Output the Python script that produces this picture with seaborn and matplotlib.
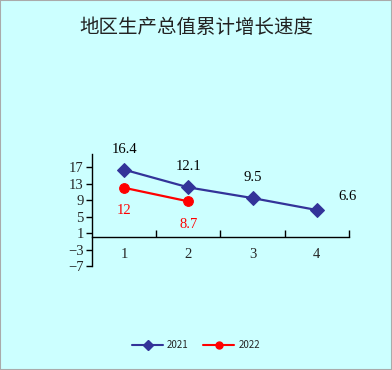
import matplotlib
matplotlib.use('Agg')
import matplotlib.pyplot as plt
import numpy as np
import pandas as pd
import seaborn as sns

# 数据
quarters = [1, 2, 3, 4]
growth_2021 = [16.4, 12.1, 9.5, 6.6]
growth_2022 = [12, 8.7]
series_names = ['2021', '2022']
y_ticks = [-7, -3, 1, 5, 9, 13, 17]

df = pd.concat([
    pd.DataFrame({'季度': quarters, '增速': growth_2021, '年份': '2021'}),
    pd.DataFrame({'季度': quarters[:len(growth_2022)], '增速': growth_2022, '年份': '2022'}),
])

sns.set_theme(style='white')
plt.rcParams['font.family'] = ['Noto Sans CJK SC', 'DejaVu Sans']
plt.rcParams['axes.unicode_minus'] = False

bg = '#ccffff'
colors = {'2021': '#333399', '2022': '#ff0000'}

fig = plt.figure(figsize=(3.92, 3.70), dpi=100, facecolor=bg)
ax = fig.add_axes([0.2347, 0.281, 0.6556, 0.3027])
ax.set_facecolor(bg)

sns.lineplot(data=df, x='季度', y='增速', hue='年份', style='年份',
             markers={'2021': 'D', '2022': 'o'}, dashes=False,
             palette=colors, markersize=7, linewidth=1.6,
             markeredgecolor=None, ax=ax, legend=False)
for line, c in zip(ax.lines, colors.values()):
    line.set_markeredgecolor(c)

num_font = ['Liberation Serif', 'DejaVu Serif']
fs = 10.5

# 数据标签
for x, v in zip(quarters, growth_2021):
    if x == 4:
        ax.annotate(f'{v}', (x, v), xytext=(22, 5), textcoords='offset points',
                    ha='center', va='bottom', fontsize=fs, family=num_font, color='black')
    else:
        ax.annotate(f'{v}', (x, v), xytext=(0, 10), textcoords='offset points',
                    ha='center', va='bottom', fontsize=fs, family=num_font, color='black')
for x, v in zip(quarters, growth_2022):
    ax.annotate(f'{v:g}', (x, v), xytext=(0, -12), textcoords='offset points',
                ha='center', va='top', fontsize=fs, family=num_font, color='#ff0000')

ax.set_xlim(0.5, 4.5)
ax.set_ylim(-7, 20.2)
ax.set_yticks(y_ticks)
ax.set_yticklabels([str(t).replace('-', '−') for t in y_ticks], family=num_font, fontsize=fs)
ax.set_xticks([1.5, 2.5, 3.5, 4.5])
ax.set_xticklabels([])
ax.set_xlabel('')
ax.set_ylabel('')

# 类别标签放在刻度之间
for q in quarters:
    ax.text(q, -4.2, str(q), ha='center', va='center', fontsize=fs, family=num_font)

for s in ['top', 'right']:
    ax.spines[s].set_visible(False)
ax.spines['bottom'].set_position(('data', 0))
for s in ['left', 'bottom']:
    ax.spines[s].set_color('black')
    ax.spines[s].set_linewidth(1)
ax.tick_params(axis='y', direction='out', length=4, width=1, color='black', left=True, pad=2)
# x 刻度向上
ax.tick_params(axis='x', direction='in', length=5, width=1, color='black', bottom=True)

fig.text(0.5, 0.925, '地区生产总值累计增长速度', ha='center', va='center', fontsize=14,
         color='#222222')

handles = [
    plt.Line2D([], [], color=colors['2021'], marker='D', markersize=5, linewidth=1.5),
    plt.Line2D([], [], color=colors['2022'], marker='o', markersize=5, linewidth=1.5),
]
fig.legend(handles, series_names, loc='center', bbox_to_anchor=(0.5, 0.067), ncol=2,
           frameon=False, fontsize=7, handlelength=3.2, columnspacing=1.5, handletextpad=0.4)

# 外框
fig.patches.append(plt.Rectangle((0, 0), 1, 1, transform=fig.transFigure, fill=False,
                                 edgecolor='#aaaaaa', linewidth=1.5))

fig.savefig('out.png', dpi=100, facecolor=bg)
